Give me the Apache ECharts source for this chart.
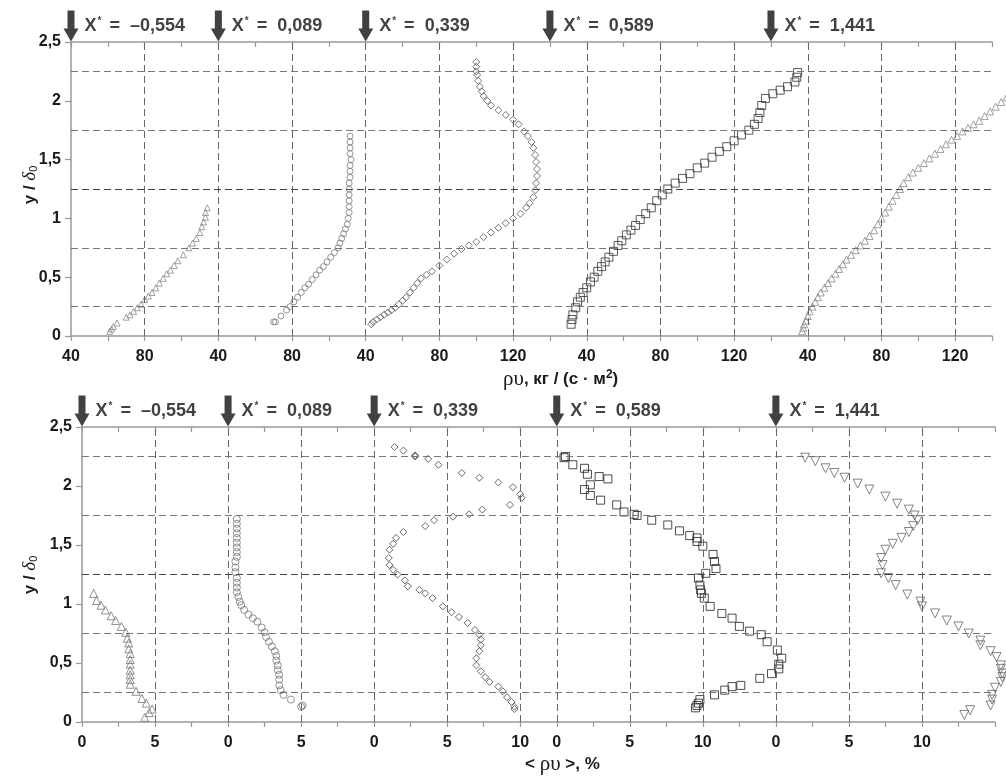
<!DOCTYPE html>
<html>
<head>
<meta charset="utf-8">
<script src="https://cdn.jsdelivr.net/npm/echarts@6/dist/echarts.min.js"></script>
<style>
  html, body { margin: 0; background: #fff; }
  #chart { width: 1006px; height: 778px; }
</style>
</head>
<body>
<div id="chart"></div>
<script>
// верхняя панель: ρυ, кг/(с·м2) против y/δ0, пять сечений
const topP1 = [[61,0.04],[62,0.06],[63,0.08],[65,0.11],[70,0.16],[72,0.18],[74,0.21],[76,0.24],[78,0.27],[80,0.31],[82,0.34],[84,0.37],[86,0.41],[88,0.45],[90,0.49],[92,0.53],[94,0.56],[96,0.60],[98,0.64],[101,0.69],[104,0.75],[106,0.79],[108,0.83],[110,0.88],[111,0.93],[112,0.97],[113,1.01],[113,1.05],[114,1.09]]
const topP2 = [[70,0.12],[71,0.12],[74,0.17],[77,0.22],[79,0.25],[81,0.29],[83,0.33],[85,0.37],[87,0.41],[89,0.44],[91,0.48],[93,0.52],[95,0.56],[97,0.59],[99,0.63],[101,0.67],[103,0.71],[105,0.75],[106,0.79],[107,0.83],[108,0.87],[109,0.91],[110,0.95],[110.5,1.0],[111,1.05],[111,1.1],[111,1.15],[111,1.2],[111,1.25],[111,1.3],[111.5,1.35],[111.5,1.4],[111.5,1.45],[112,1.5],[111.5,1.55],[111.5,1.6],[111.5,1.65],[111.5,1.7]]
const topP3 = [[43,0.10],[44,0.12],[46,0.14],[48,0.16],[50,0.18],[52,0.20],[54,0.22],[56,0.24],[58,0.27],[60,0.30],[62,0.33],[64,0.37],[66,0.41],[68,0.45],[70,0.49],[73,0.52],[76,0.55],[80,0.60],[84,0.65],[88,0.70],[92,0.74],[96,0.77],[100,0.80],[104,0.84],[108,0.88],[112,0.92],[116,0.96],[120,1.00],[124,1.04],[127,1.09],[129,1.13],[131,1.18],[132,1.24],[132.5,1.30],[133,1.36],[133,1.42],[132.5,1.48],[132,1.54],[131,1.60],[130,1.65],[128,1.70],[126,1.74],[123,1.80],[120,1.84],[116,1.88],[112,1.92],[108,1.96],[106,2.00],[104,2.04],[103,2.08],[102,2.12],[101,2.17],[100.5,2.22],[100,2.25],[100,2.29],[100,2.33]]
const topP4 = [[31.5,0.10],[32,0.14],[32.5,0.18],[34,0.24],[35,0.29],[36.5,0.33],[38,0.37],[40,0.41],[42,0.46],[44,0.50],[46,0.55],[48,0.59],[50,0.63],[52,0.67],[54.5,0.72],[57,0.77],[59,0.81],[61.5,0.86],[64,0.90],[66.5,0.94],[69,0.99],[72,1.04],[75,1.09],[78,1.15],[81,1.20],[84,1.25],[88,1.30],[92,1.34],[96,1.38],[100,1.43],[104,1.47],[108,1.52],[112,1.57],[116,1.61],[120,1.66],[124,1.71],[128,1.75],[131,1.80],[133,1.85],[134,1.90],[135,1.96],[137,2.02],[141,2.06],[145,2.09],[149,2.12],[153,2.16],[154,2.20],[154.5,2.24]]
const topP5 = [[37,0.04],[37.5,0.07],[38,0.10],[39,0.13],[40,0.17],[41,0.21],[42.5,0.25],[44,0.29],[45.5,0.33],[47,0.37],[49,0.41],[51,0.45],[53,0.49],[55,0.53],[57,0.57],[59,0.61],[61,0.65],[63.5,0.69],[66,0.73],[68.5,0.77],[71,0.81],[73.5,0.85],[76,0.90],[78,0.95],[80,1.00],[82,1.05],[84,1.10],[86,1.15],[88,1.20],[90,1.25],[92,1.30],[94.5,1.35],[97,1.39],[100,1.43],[103,1.47],[106,1.51],[109,1.55],[112,1.59],[115,1.63],[118,1.67],[121,1.70],[124,1.74],[127,1.77],[130,1.80],[133,1.83],[136,1.87],[139,1.91],[142,1.95],[145,1.99],[148,2.03]]

// нижняя панель: <ρυ>, % против y/δ0
const botP1 = [[0.8,1.09],[1.0,1.03],[1.3,0.99],[1.6,0.95],[2.0,0.90],[2.3,0.86],[2.7,0.81],[3.0,0.76],[3.1,0.71],[3.2,0.67],[3.2,0.62],[3.3,0.58],[3.3,0.53],[3.3,0.49],[3.3,0.44],[3.3,0.40],[3.3,0.36],[3.3,0.32],[3.7,0.26],[4.1,0.20],[4.4,0.16],[4.8,0.11],[4.6,0.08],[4.3,0.04]]
const botP2 = [[0.6,1.72],[0.6,1.68],[0.6,1.64],[0.6,1.60],[0.6,1.56],[0.6,1.52],[0.6,1.48],[0.6,1.44],[0.6,1.40],[0.5,1.36],[0.5,1.31],[0.5,1.27],[0.6,1.22],[0.6,1.18],[0.6,1.14],[0.6,1.10],[0.7,1.06],[0.8,1.02],[0.9,0.99],[1.1,0.95],[1.4,0.91],[1.7,0.88],[2.0,0.85],[2.3,0.80],[2.5,0.76],[2.6,0.72],[2.8,0.68],[3.0,0.64],[3.2,0.60],[3.3,0.56],[3.3,0.52],[3.4,0.48],[3.4,0.44],[3.5,0.40],[3.5,0.36],[3.5,0.31],[3.6,0.27],[3.8,0.23],[4.3,0.19],[5.1,0.14],[5.0,0.13]]
const botP3 = [[9.6,0.11],[9.6,0.13],[9.4,0.17],[9.1,0.21],[8.8,0.26],[8.5,0.30],[7.9,0.34],[7.6,0.38],[7.3,0.43],[7.0,0.48],[7.0,0.54],[7.2,0.60],[7.3,0.65],[7.3,0.70],[7.2,0.74],[6.9,0.78],[6.4,0.84],[5.8,0.89],[5.3,0.93],[4.7,0.98],[4.0,1.05],[3.5,1.09],[3.1,1.12],[2.3,1.15],[2.1,1.20],[1.6,1.25],[1.3,1.29],[1.05,1.33],[1.0,1.39],[1.05,1.46],[1.3,1.51],[1.5,1.56],[2.0,1.61],[3.5,1.66],[4.1,1.71],[5.4,1.74],[6.5,1.76],[7.4,1.80],[9.3,1.84],[10.1,1.90],[10.0,1.93],[9.5,1.99],[8.5,2.03],[7.2,2.07],[6.0,2.11],[4.4,2.18],[3.7,2.23],[2.8,2.25],[2.8,2.26],[2.0,2.30],[1.4,2.33]]
const botP4 = [[9.5,0.12],[9.6,0.14],[9.7,0.16],[9.8,0.19],[10.8,0.23],[11.5,0.27],[12.0,0.30],[12.6,0.31],[13.9,0.37],[14.7,0.41],[15.2,0.45],[15.2,0.49],[15.4,0.54],[15.1,0.61],[14.4,0.68],[14.0,0.74],[13.2,0.77],[12.5,0.81],[12.0,0.88],[11.3,0.92],[10.5,0.98],[10.1,1.05],[9.9,1.09],[9.85,1.12],[9.8,1.16],[9.7,1.22],[10.2,1.26],[10.9,1.30],[10.8,1.36],[10.7,1.42],[10.0,1.49],[9.6,1.53],[9.6,1.56],[9.1,1.58],[8.4,1.62],[7.6,1.67],[6.5,1.71],[5.5,1.75],[5.3,1.76],[4.6,1.78],[4.1,1.84],[3.0,1.88],[2.3,1.92],[1.9,1.97],[2.3,2.01],[3.5,2.06],[2.9,2.08],[2.1,2.10],[1.9,2.15],[1.1,2.18],[0.5,2.24],[0.6,2.25]]
const botP5 = [[12.9,0.06],[13.3,0.10],[14.7,0.14],[14.8,0.19],[14.8,0.23],[15.0,0.29],[15.4,0.34],[15.5,0.38],[15.5,0.41],[15.4,0.45],[15.4,0.48],[15.1,0.55],[14.7,0.60],[14.0,0.65],[14.0,0.69],[13.2,0.75],[12.5,0.81],[11.7,0.86],[10.9,0.92],[10.0,0.98],[9.9,1.02],[9.0,1.08],[8.2,1.16],[7.7,1.22],[7.2,1.26],[7.3,1.33],[7.2,1.39],[7.5,1.46],[8.0,1.51],[8.6,1.56],[9.1,1.61],[9.4,1.66],[9.7,1.71],[9.5,1.75],[9.1,1.80],[8.3,1.85],[7.5,1.91],[6.4,1.97],[5.6,2.02],[4.7,2.07],[4.0,2.11],[3.4,2.15],[2.7,2.21],[2.0,2.24]]

// сдвиги профилей по общей оси x
const topOffsets = [-40, 40, 120, 240, 360]
const botOffsets = [0, 10, 20, 32.5, 47.5]

// подписи оси x (позиция на общей оси -> текст)
const topTickPos = [0, 40, 80, 120, 160, 200, 240, 280, 320, 360, 400, 440, 480]
const topTickText = ['40', '80', '40', '80', '40', '80', '120', '40', '80', '120', '40', '80', '120']
const botTickPos = [0, 5, 10, 15, 20, 25, 30, 32.5, 37.5, 42.5, 47.5, 52.5, 57.5]
const botTickText = ['0', '5', '0', '5', '0', '5', '10', '0', '5', '10', '0', '5', '10']

const stationLabels = ['–0,554', '0,089', '0,339', '0,589', '1,441']
const topArrowPos = [0, 80, 160, 260, 380]
const botArrowPos = [0, 10, 20, 32.5, 47.5]
const hLines = [0.25, 0.75, 1.25, 1.75, 2.25]

const FONT = "'Liberation Sans', Arial, sans-serif"
const SERIF = "'Liberation Serif', 'DejaVu Serif', serif"
const ARROW = 'path://M4,0 L11,0 L11,18 L15,18 L7.5,31 L0,18 L4,18 Z'

const topStyles = [
  { symbol: 'triangle', size: 6, color: '#8a8a8a' },
  { symbol: 'circle', size: 6, color: '#7a7a7a' },
  { symbol: 'diamond', size: 7, color: '#555' },
  { symbol: 'rect', size: 8, color: '#333' },
  { symbol: 'triangle', size: 7, color: '#8a8a8a' }
]
const botStyles = [
  { symbol: 'triangle', size: 8, color: '#777' },
  { symbol: 'circle', size: 7, color: '#777' },
  { symbol: 'diamond', size: 7, color: '#444' },
  { symbol: 'rect', size: 8, color: '#222' },
  { symbol: 'triangle', size: 9, color: '#666', rotate: 180 }
]

const nameRich = {
  b: { fontFamily: FONT, fontWeight: 'bold', fontSize: 17, fill: '#1a1a1a' },
  d: { fontFamily: SERIF, fontStyle: 'italic', fontSize: 19, fill: '#1a1a1a' },
  s: { fontFamily: FONT, fontSize: 11, fill: '#1a1a1a', padding: [8, 0, 0, 0] },
  g: { fontFamily: SERIF, fontSize: 21, fill: '#1a1a1a' },
  u: { fontFamily: FONT, fontWeight: 'bold', fontSize: 12, fill: '#1a1a1a', padding: [0, 0, 9, 0] }
}

function tickFormatter (pos, text) {
  return function (value) {
    const i = pos.findIndex(p => Math.abs(p - value) < 1e-6)
    return i >= 0 ? text[i] : ''
  }
}

function xAxes (grid, max, interval, pos, text) {
  const line = { lineStyle: { color: '#999', width: 1.5 } }
  return [
    {
      type: 'value', gridIndex: grid, min: 0, max: max, interval: interval, position: 'bottom',
      axisLine: line,
      axisTick: { show: true, inside: false, length: 5, lineStyle: { color: '#999', width: 1.2 } },
      axisLabel: { formatter: tickFormatter(pos, text), fontFamily: FONT, fontWeight: 'bold', fontSize: 16, color: '#1a1a1a', margin: 13 },
      splitLine: { show: false }
    },
    {
      type: 'value', gridIndex: grid, min: 0, max: max, interval: interval, position: 'top',
      axisLine: line,
      axisTick: { show: true, inside: true, length: 5, lineStyle: { color: '#999', width: 1.2 } },
      axisLabel: { show: false },
      splitLine: { show: false }
    }
  ]
}

function yAxis (grid) {
  return {
    type: 'value', gridIndex: grid, min: 0, max: 2.5, interval: 0.5,
    axisLine: { show: true, lineStyle: { color: '#999', width: 1.5 } },
    axisTick: { show: true, length: 6, lineStyle: { color: '#999', width: 1.2 } },
    axisLabel: { formatter: v => String(v).replace('.', ','), fontFamily: FONT, fontWeight: 'bold', fontSize: 16, color: '#1a1a1a', margin: 10 },
    splitLine: { show: false }
  }
}

function gridLines (pos) {
  const v = pos.filter(p => p > 0).map(p => ({ xAxis: p }))
  const h = hLines.map(y => ({ yAxis: y, lineStyle: { color: y === 1.25 ? '#444' : '#777' } }))
  return {
    silent: true,
    symbol: ['none', 'none'],
    label: { show: false },
    lineStyle: { type: [7, 4], width: 1, color: '#666' },
    data: v.concat(h)
  }
}

function profileSeries (data, offsets, styles, xIdx, yIdx, pos) {
  return data.map((pts, k) => {
    const s = {
      type: 'scatter',
      xAxisIndex: xIdx,
      yAxisIndex: yIdx,
      clip: false,
      symbol: styles[k].symbol,
      symbolSize: styles[k].size,
      symbolRotate: styles[k].rotate || 0,
      itemStyle: { color: 'rgba(0,0,0,0)', borderColor: styles[k].color, borderWidth: 1 },
      data: pts.map(p => [p[0] + offsets[k], p[1]])
    }
    if (k === 0) s.markLine = gridLines(pos)
    return s
  })
}

function arrowSeries (pos, xIdx, yIdx) {
  return {
    type: 'scatter',
    xAxisIndex: xIdx,
    yAxisIndex: yIdx,
    clip: false,
    symbol: ARROW,
    symbolSize: [15, 31],
    symbolOffset: [0, '-52%'],
    itemStyle: { color: '#111' },
    z: 5,
    label: {
      show: true,
      position: 'right',
      distance: 6,
      formatter: p => '{a|X}{s|*}{a| =  ' + stationLabels[p.dataIndex] + '}',
      rich: {
        a: { fontFamily: FONT, fontWeight: 'bold', fontSize: 18, color: '#111' },
        s: { fontFamily: FONT, fontWeight: 'bold', fontSize: 10, color: '#111', padding: [0, 3, 9, 1] }
      }
    },
    data: pos.map(p => [p, 2.5])
  }
}

function yName (cy) {
  return {
    type: 'text', x: 30, y: cy, rotation: Math.PI / 2,
    style: { text: '{b|y / }{d|δ}{s|0}', align: 'center', verticalAlign: 'middle', rich: nameRich }
  }
}

const chart = echarts.init(document.getElementById('chart'), null, { renderer: 'canvas' })
chart.setOption({
  animation: false,
  backgroundColor: '#fff',
  grid: [
    { left: 71, top: 42, width: 921, height: 294, outerBoundsMode: 'none' },
    { left: 82, top: 427, width: 913, height: 295, outerBoundsMode: 'none' }
  ],
  xAxis: xAxes(0, 500, 20, topTickPos, topTickText).concat(xAxes(1, 62.5, 2.5, botTickPos, botTickText)),
  yAxis: [yAxis(0), yAxis(1)],
  series: []
    .concat(profileSeries([topP1, topP2, topP3, topP4, topP5], topOffsets, topStyles, 0, 0, topTickPos))
    .concat(profileSeries([botP1, botP2, botP3, botP4, botP5], botOffsets, botStyles, 2, 1, botTickPos))
    .concat([arrowSeries(topArrowPos, 0, 0), arrowSeries(botArrowPos, 2, 1)]),
  graphic: [
    yName(185),
    yName(575),
    {
      type: 'text', left: 503, top: 369,
      style: { text: '{g|ρυ}{b|, кг / (с · м}{u|2}{b|)}', rich: nameRich }
    },
    {
      type: 'text', left: 525, top: 754,
      style: { text: '{b|< }{g|ρυ}{b| >, %}', rich: nameRich }
    }
  ]
})
</script>
</body>
</html>
